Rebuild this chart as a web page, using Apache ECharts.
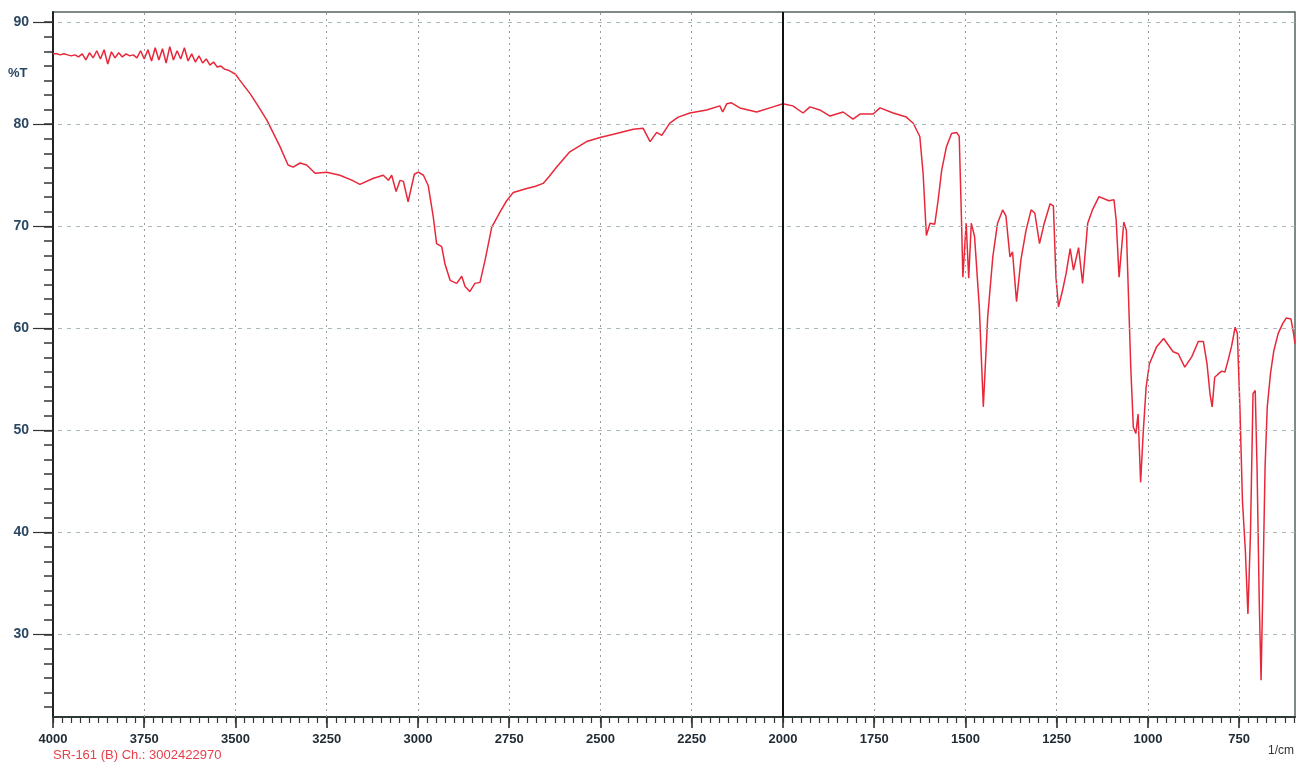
<!DOCTYPE html>
<html><head><meta charset="utf-8">
<script src="https://cdn.jsdelivr.net/npm/echarts@6/dist/echarts.min.js"></script>
<style>html,body{margin:0;padding:0;background:#fff}#c{width:1312px;height:764px}</style>
</head><body><div id="c"></div>
<script>
// Wavenumbers (1/cm) and %T
const wavenumbers = [
4000,3990,3980,3970,3960,3950,3940,3930,3920,3910,3900,3890,3880,3870,3860,3850,3840,3830,3820,3810,
3800,3790,3780,3770,3760,3750,3740,3730,3720,3710,3700,3690,3680,3670,3660,3650,3640,3630,3620,3610,
3600,3590,3580,3570,3560,3550,3540,3530,3520,3510,3500,3490,3460,3440,3414,3378,3356,3342,3323,3305,3282,
3250,3214,3180,3159,3122,3095,3081,3072,3060,3049,3040,3027,3010,2999,2985,2972,2958,2949,2935,2926,
2912,2894,2880,2871,2858,2844,2830,2816,2798,2775,2757,2739,2702,2680,2657,2640,2620,2584,2538,2501,2456,2410,
2383,2364,2346,2332,2310,2287,2255,2209,2173,2165,2154,2141,2118,2072,2027,2000,1973,1945,1926,1899,
1871,1835,1808,1789,1753,1734,1698,1662,1643,1625,1616,1607,1597,1584,1575,1565,1552,1538,1524,1517,
1511,1507,1498,1491,1484,1475,1462,1451,1439,1425,1412,1398,1389,1378,1371,1360,1348,1334,1320,1310,
1297,1284,1268,1259,1252,1245,1234,1224,1213,1204,1190,1179,1165,1152,1134,1107,1093,1087,1079,1066,
1059,1047,1040,1033,1027,1020,1013,1005,996,976,957,931,917,899,880,862,848,838,830,824,
817,808,798,789,780,771,761,755,748,741,733,726,719,712,706,701,695,690,684,679,
673,664,655,643,630,621,608,601,597
];
const transmittance = [
86.9,86.9,86.8,86.9,86.8,86.7,86.8,86.6,86.9,86.3,87.0,86.5,87.2,86.4,87.3,85.9,87.1,86.5,87.0,86.6,
86.9,86.7,86.8,86.5,87.2,86.4,87.3,86.2,87.5,86.3,87.4,86.0,87.6,86.3,87.2,86.4,87.5,86.2,86.9,86.1,
86.7,86.0,86.4,85.8,86.1,85.6,85.7,85.4,85.3,85.1,84.9,84.4,83.0,81.9,80.4,77.8,76.0,75.8,76.2,76.0,75.2,
75.3,75.0,74.5,74.1,74.7,75.0,74.5,75.0,73.4,74.5,74.4,72.4,75.1,75.3,75.0,74.0,70.9,68.3,68.0,66.3,
64.7,64.4,65.1,64.1,63.6,64.4,64.5,66.7,69.9,71.4,72.5,73.3,73.7,73.9,74.2,74.9,75.8,77.3,78.3,78.7,79.1,79.5,
79.6,78.3,79.2,78.9,80.1,80.7,81.1,81.4,81.8,81.2,82.0,82.1,81.6,81.2,81.7,82.0,81.8,81.1,81.7,81.4,
80.8,81.2,80.5,81.0,81.0,81.6,81.1,80.7,80.1,78.8,75.2,69.1,70.3,70.2,72.5,75.5,77.8,79.1,79.2,78.8,
70.9,65.0,70.3,64.9,70.3,69.0,62.1,52.3,61.1,67.0,70.3,71.6,71.0,67.0,67.5,62.6,66.7,69.6,71.6,71.3,
68.3,70.3,72.2,72.0,65.0,62.1,63.7,65.4,67.8,65.7,67.9,64.4,70.3,71.6,72.9,72.5,72.6,70.6,65.0,70.4,
69.6,56.2,50.3,49.7,51.6,44.9,49.7,54.2,56.5,58.2,59.0,57.7,57.5,56.2,57.2,58.7,58.7,56.5,53.6,52.3,
55.2,55.5,55.8,55.7,56.9,58.2,60.1,59.5,52.3,43.1,38.2,32.0,39.9,53.6,53.9,46.4,33.3,25.5,36.6,46.4,
52.3,55.6,57.8,59.5,60.5,61.0,60.9,59.5,58.5
];
const xTickLabels = [4000,3750,3500,3250,3000,2750,2500,2250,2000,1750,1500,1250,1000,750];
const yTickLabels = [30,40,50,60,70,80,90];
const xMin = 597, xMax = 4000, yMin = 21.9, yMax = 91;

const xMinorTicks = [];
for (let v = 4000; v >= 600; v -= 25) xMinorTicks.push(v);
const yMinorTicks = [];
for (let k = 0; 90 - k * 10 / 7 >= yMin; k++) yMinorTicks.push(90 - k * 10 / 7);

const points = wavenumbers.map((w, i) => [w, transmittance[i]]);

const chart = echarts.init(document.getElementById('c'), null, {renderer: 'canvas'});
const font = 'Liberation Sans, Arial, sans-serif';

const gridLines = [];
xTickLabels.forEach(v => { if (v !== 2000 && v !== 4000) gridLines.push({xAxis: v, lineStyle: {type: [2, 4], color: '#9b9b9b', width: 1}}); });
yTickLabels.forEach(v => gridLines.push({yAxis: v, lineStyle: {type: [4, 5], color: '#a9bbb6', width: 1}}));

chart.setOption({
  animation: false,
  backgroundColor: '#ffffff',
  grid: {left: 53, right: 17, top: 12, bottom: 47, show: true, borderColor: '#56645f', borderWidth: 1.5},
  xAxis: [
    {type: 'value', min: xMin, max: xMax, inverse: true, position: 'bottom',
     axisLine: {show: true, lineStyle: {color: '#2e3a38', width: 2}},
     axisTick: {show: true, customValues: xTickLabels, length: 11, lineStyle: {color: '#222', width: 1.5}},
     axisLabel: {customValues: xTickLabels, margin: 16, fontSize: 13, fontWeight: 'bold', color: '#1f2a33', fontFamily: font,
       formatter: v => String(v)},
     splitLine: {show: false}},
    {type: 'value', min: xMin, max: xMax, inverse: true, position: 'bottom',
     axisLine: {show: false},
     axisTick: {show: true, customValues: xMinorTicks, length: 6, lineStyle: {color: '#333', width: 1.2}},
     axisLabel: {show: false}, splitLine: {show: false}}
  ],
  yAxis: [
    {type: 'value', min: yMin, max: yMax, position: 'left',
     axisLine: {show: true, lineStyle: {color: '#222', width: 2}},
     axisTick: {show: true, customValues: yTickLabels, length: 20, lineStyle: {color: '#333', width: 1.2}},
     axisLabel: {customValues: yTickLabels, margin: 24, fontSize: 14, fontWeight: 'bold', color: '#2b4863', fontFamily: font,
       formatter: v => String(v)},
     splitLine: {show: false}},
    {type: 'value', min: yMin, max: yMax, position: 'left',
     axisLine: {show: false},
     axisTick: {show: true, customValues: yMinorTicks, length: 9, lineStyle: {color: '#333', width: 1.5}},
     axisLabel: {show: false}, splitLine: {show: false}}
  ],
  series: [
    {type: 'line', name: 'grid', data: [], xAxisIndex: 0, yAxisIndex: 0, z: 1, silent: true,
     markLine: {silent: true, symbol: 'none', label: {show: false}, data: gridLines}},
    {type: 'line', name: 'SR-161', data: points, xAxisIndex: 0, yAxisIndex: 0, z: 3,
     showSymbol: false, symbol: 'none', smooth: false,
     lineStyle: {color: '#e8283a', width: 1.5},
     markLine: {silent: true, symbol: 'none', label: {show: false},
       data: [{xAxis: 2000, lineStyle: {type: 'solid', color: '#111', width: 2}}]}}
  ],
  graphic: [
    {type: 'text', left: 8, top: 67, style: {text: '%T', font: 'bold 13px ' + font, fill: '#2b4863'}},
    {type: 'text', left: 53, top: 749, style: {text: 'SR-161 (B) Ch.: 3002422970', font: '13px ' + font, fill: '#e8404a'}},
    {type: 'text', left: 1268, top: 745, style: {text: '1/cm', font: '12px ' + font, fill: '#333'}}
  ]
});
</script>
</body></html>
